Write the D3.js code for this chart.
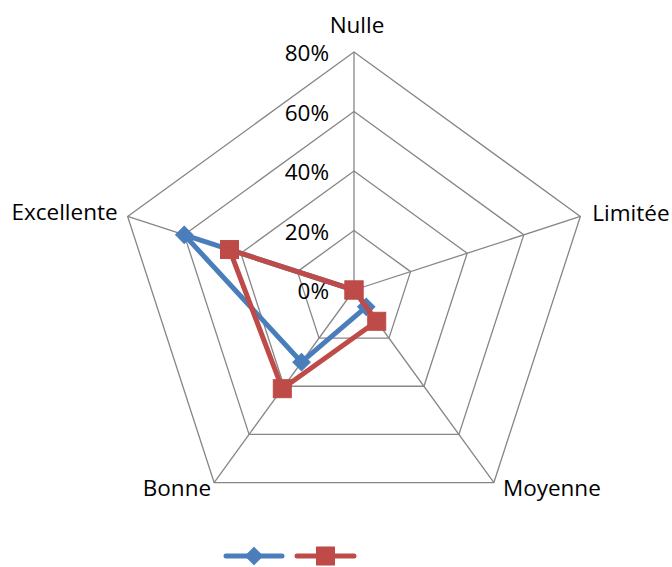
<!DOCTYPE html>
<html><head><meta charset="utf-8">
<script src="https://cdn.jsdelivr.net/npm/d3@7"></script>
<style>body{margin:0;background:#fff;} svg{display:block;font-family:"Open Sans",sans-serif;}</style>
</head><body><svg id="c" width="672" height="567"></svg>
<script>
const categories = ["Nulle","Limitée","Moyenne","Bonne","Excellente"];
const seriesBlue = [0, 0, 7, 30, 60];
const seriesRed = [0, 0, 13, 41, 44];
const tickValues = [0, 20, 40, 60, 80];
const tickLabels = ["0%","20%","40%","60%","80%"];

const svg = d3.select("#c");
const cx = 354, cy = 290, R = 238;
const r = d3.scaleLinear().domain([0,80]).range([0,R]);
const ang = i => i * 2*Math.PI/categories.length;
const pt = (i,v) => [cx + r(v)*Math.sin(ang(i)), cy - r(v)*Math.cos(ang(i))];

const grid = svg.append("g").attr("stroke","#868686").attr("stroke-width",1.3).attr("fill","none");
tickValues.slice(1).forEach(t=>{
  grid.append("path").attr("d", d3.line()(categories.map((c,i)=>pt(i,t))) + "Z");
});
categories.forEach((c,i)=>{
  const p = pt(i,80);
  grid.append("line").attr("x1",cx).attr("y1",cy).attr("x2",p[0]).attr("y2",p[1]);
});

// tick labels
svg.append("g").selectAll("text").data(tickValues).join("text")
  .attr("x", 329).attr("y", d=>cy - r(d) + 9).attr("text-anchor","end")
  .attr("font-size",22.5).attr("fill","#000").text((d,i)=>tickLabels[i]);

// category labels
const labPos = [
  {dx:3, dy:-19, anchor:"middle"},
  {dx:12, dy:5, anchor:"start"},
  {dx:9, dy:13, anchor:"start"},
  {dx:-3, dy:13, anchor:"end"},
  {dx:-10, dy:4, anchor:"end"}
];
categories.forEach((c,i)=>{
  const p = pt(i,80), L = labPos[i];
  svg.append("text").attr("x",p[0]+L.dx).attr("y",p[1]+L.dy).attr("text-anchor",L.anchor)
    .attr("font-size",22.5).attr("fill","#000").text(c);
});

const line = d3.line();
function drawSeries(vals,color,marker){
  const pts = vals.map((v,i)=>pt(i,v));
  svg.append("path").attr("d", line(pts)+"Z").attr("fill","none").attr("stroke",color)
    .attr("stroke-width",5).attr("stroke-linejoin","round");
  pts.forEach(p=>drawMarker(p,color,marker));
}
function drawMarker(p,color,marker){
  if(marker==="diamond"){
    svg.append("path").attr("d", d3.symbol(d3.symbolSquare, 150)())
      .attr("transform",`translate(${p[0]},${p[1]}) rotate(45)`).attr("fill",color).attr("stroke",color).attr("stroke-width",1);
  } else {
    svg.append("rect").attr("x",p[0]-9).attr("y",p[1]-9).attr("width",18).attr("height",18)
      .attr("fill",color).attr("stroke",color).attr("stroke-width",1);
  }
}
drawSeries(seriesBlue,"#4A7EBB","diamond");
drawSeries(seriesRed,"#BE4B48","square");

// legend
const lg = svg.append("g");
[[226,282,"#4A7EBB","diamond"],[297,354,"#BE4B48","square"]].forEach(([x1,x2,c,m])=>{
  lg.append("line").attr("x1",x1).attr("x2",x2).attr("y1",556).attr("y2",556).attr("stroke",c)
    .attr("stroke-width",5).attr("stroke-linecap","round");
  drawMarker([(x1+x2)/2,556],c,m);
});
</script></body></html>
